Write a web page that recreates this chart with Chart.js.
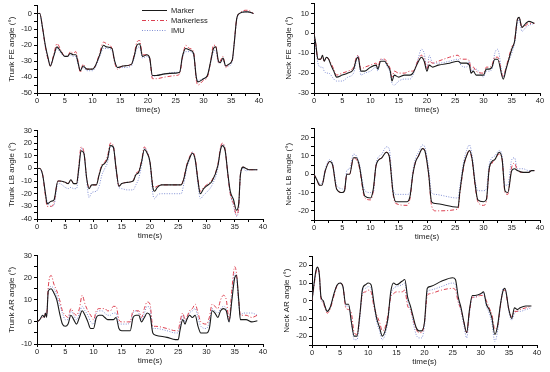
<!DOCTYPE html>
<html>
<head>
<meta charset="utf-8">
<script src="https://cdn.jsdelivr.net/npm/chart.js@4/dist/chart.umd.min.js"></script>
<style>
  html, body { margin: 0; padding: 0; background: #fff; width: 550px; height: 372px; overflow: hidden; }
  canvas { position: absolute; }
</style>
</head>
<body>
<canvas id="trunkFE"></canvas>
<canvas id="neckFE"></canvas>
<canvas id="trunkLB"></canvas>
<canvas id="neckLB"></canvas>
<canvas id="trunkAR"></canvas>
<canvas id="neckAR"></canvas>
<script>
// ---- data (angles in degrees) ----
var seriesNames = ["Marker", "Markerless", "IMU"];

var trunkFE_t = [0, 0.5, 1, 1.5, 2, 2.4, 3, 3.6, 4.3, 5, 5.5, 6, 6.5, 7, 7.4, 7.8, 8.3, 9, 10, 10.5, 11.2, 12, 12.5, 13.5, 14, 14.5, 15.5, 17, 17.5, 18, 18.5, 19, 19.8, 20.3, 20.8, 21.5, 23, 25, 25.7, 26.2, 26.8, 27.5, 28.2, 28.7, 29, 30, 30.7, 31.3, 31.8, 32.2, 32.7, 33, 33.5, 34, 34.5, 35.2, 35.5, 36, 36.5, 37.5, 38, 39];
var trunkFE_marker = [0, 0, -9, -20, -28, -33, -27, -21, -24, -27, -27, -25, -26, -26, -31, -36, -33, -35, -35, -33, -27, -20, -21, -22, -30, -34, -33, -32, -27, -20, -19, -27, -26, -28, -39, -39, -38, -37.5, -37, -27, -22, -23, -25, -40, -43, -41, -39, -30, -22, -21, -30, -31, -28, -33, -32, -29, -20, -3, 0, 1, 1, 0];
var trunkFE_markerless = [0, 0, -9, -21, -29, -33, -26, -19, -23, -27, -27, -24, -25, -24, -30, -37, -32, -35, -35, -33, -26, -18, -19, -22, -31, -35, -33, -32, -26, -18, -17, -26, -26, -28, -41, -41, -40, -39, -38, -28, -20, -22, -24, -42, -45, -42, -40, -30, -20, -20, -31, -30, -27, -34, -32, -29, -20, -3, 0, 2, 2, 0];
var trunkFE_imu = [0, 0, -10, -21, -29, -32, -27, -22, -25, -27, -27, -26, -27, -27, -32, -35, -34, -36, -36, -34, -28, -22, -22, -23, -30, -34, -34, -33, -28, -22, -21, -28, -27, -29, -40, -39, -38, -37, -37, -28, -24, -24, -26, -40, -42, -41, -39, -31, -24, -23, -31, -31, -29, -33, -33, -30, -20, -4, 0, 1, 1, 0];

var neckFE_t = [0, 0.3, 0.7, 1.2, 1.5, 1.8, 2.2, 2.6, 3, 3.5, 4, 5, 6, 7, 7.5, 7.8, 8.3, 9, 10, 11, 11.3, 11.8, 12.5, 13, 13.5, 13.8, 14.2, 15, 16, 17, 17.5, 18.5, 19, 19.5, 20, 20.4, 21, 22, 24, 25.5, 26, 27, 27.5, 27.8, 28.2, 28.7, 30, 30.5, 31, 31.5, 32, 32.5, 33.5, 34, 35, 35.5, 36, 36.3, 36.8, 37.5, 38, 39];
var neckFE_marker = [0, -5, -13, -13, -11, -14, -12, -13, -16, -19, -22, -21, -20, -18, -13, -12, -19, -19, -17, -16, -18, -14, -14, -16, -19, -24, -21, -22, -21, -21, -20, -14, -12, -14, -19, -16, -17, -16, -15, -14, -15, -15, -16, -20, -19, -21, -21, -18, -18, -17, -13, -13, -23, -18, -8, -4, 7, 8, 3, 5, 6, 5];
var neckFE_markerless = [0, -5, -13, -13, -11, -14, -12, -13, -15, -18, -21, -20, -19, -17, -12, -11, -18, -17, -16, -15, -17, -13, -13, -15, -18, -22, -19, -20, -20, -19, -19, -13, -11, -13, -18, -14, -15, -14, -12, -11, -13, -13, -14, -18, -17, -19, -20, -17, -17, -16, -12, -12, -22, -17, -7, -4, 7, 8, 3, 4, 5, 5];
var neckFE_imu = [0, -7, -15, -17, -17, -19, -20, -20, -21, -23, -24, -24, -22, -20, -14, -11, -21, -20, -19, -17, -19, -13, -14, -17, -20, -25, -26, -24, -23, -23, -21, -12, -8, -10, -18, -11, -15, -15, -14, -13, -16, -17, -14, -19, -18, -18, -22, -19, -19, -18, -10, -8, -22, -17, -10, -5, 5, 7, 1, 3, 4, 5];

var trunkLB_t = [0, 0.5, 1, 1.5, 1.8, 2.5, 3, 3.7, 4, 5, 5.5, 6, 6.5, 7, 7.4, 7.8, 8.3, 8.8, 9.2, 9.7, 10.5, 11, 11.5, 12, 12.5, 13, 13.5, 14, 14.5, 15, 16, 17, 17.5, 18, 18.5, 19, 19.5, 20, 20.5, 20.8, 21.3, 22, 24, 25.5, 26, 26.5, 27, 27.5, 28, 28.5, 28.9, 29.5, 30, 31, 32, 32.5, 32.8, 33.3, 33.8, 34.2, 34.8, 35.3, 35.7, 36, 36.5, 37, 37.5, 39];
var trunkLB_marker = [0, 0, -5, -20, -28, -26, -25, -10, -10, -11, -12, -9, -12, -12, 0, 14, 12, -8, -16, -13, -13, -5, 2, 4, 8, 18, 17, 0, -14, -12, -11, -10, -5, -3, 5, 15, 12, 5, -15, -18, -15, -13, -13, -13, -8, 2, 8, 12, 7, -10, -20, -16, -14, -10, 2, 15, 18, 14, -5, -18, -25, -33, -28, -5, 1, 0, -1, -1];
var trunkLB_markerless = [0, 0, -5, -22, -30, -30, -27, -10, -10, -11, -12, -9, -12, -12, 2, 17, 13, -8, -15, -13, -13, -4, 3, 5, 10, 20, 18, 0, -14, -12, -11, -10, -4, -2, 6, 17, 13, 5, -13, -15, -14, -13, -13, -13, -7, 3, 9, 13, 8, -9, -18, -15, -13, -9, 3, 17, 20, 15, -6, -20, -28, -37, -30, -5, 1, 0, -1, -1];
var trunkLB_imu = [0, 0, -6, -20, -26, -30, -29, -12, -12, -15, -16, -15, -16, -16, -2, 16, 12, -10, -23, -19, -18, -14, -5, 0, 5, 17, 17, -2, -15, -16, -17, -17, -13, -8, 2, 16, 13, 3, -20, -24, -21, -20, -20, -20, -12, 0, 7, 13, 6, -13, -24, -21, -19, -13, 0, 16, 19, 15, -6, -20, -30, -38, -32, -6, 0, -2, -1, -1];

var neckLB_t = [0, 0.5, 1, 1.4, 2, 2.8, 3.3, 4, 5, 5.4, 5.8, 6.3, 7, 7.5, 8, 9, 10, 10.5, 11, 12, 12.8, 13.3, 14, 14.5, 16.5, 17, 17.5, 18, 18.5, 19.2, 19.6, 20.3, 20.8, 21.5, 25.5, 25.8, 26.5, 27, 27.5, 28, 28.5, 29, 30, 30.5, 31, 31.5, 32, 32.8, 33.3, 33.8, 34.3, 35, 35.5, 36, 37, 38, 38.5, 39];
var neckLB_marker = [0, -3, -6, -6, 2, 7, 5, -8, -10, -9, 0, 0, 9, 9, 5, -12, -13, -8, 5, 9, 12, 10, -10, -15, -15, -12, 0, 7, 10, 14, 13, 0, -15, -16, -18, -10, 5, 10, 13, 8, -5, -14, -15, -14, 3, 7, 8, 12, 8, -9, -10, 2, 3, 2, 1, 1, 2, 2];
var neckLB_markerless = [0, -3, -6, -6, 2, 7, 5, -8, -10, -9, 0, 0, 9, 8, 4, -13, -14, -9, 5, 9, 12, 10, -11, -16, -17, -13, 0, 7, 10, 14, 13, -1, -17, -20, -19, -11, 4, 10, 13, 7, -6, -15, -17, -15, 2, 6, 8, 11, 8, -10, -11, 4, 6, 2, 1, 1, 2, 2];
var neckLB_imu = [0, -3, -5, -5, 3, 8, 6, -6, -8, -9, 2, 3, 11, 10, 6, -9, -10, -10, 6, 11, 15, 14, -8, -11, -11, -10, 2, 9, 12, 16, 15, 3, -10, -11, -13, -7, 7, 13, 16, 10, -3, -9, -9, -8, 5, 9, 10, 13, 10, -6, -6, 8, 9, 3, 3, 2, 2, 2];

var trunkAR_t = [0, 0.5, 1, 1.3, 1.5, 1.7, 2, 2.5, 3, 3.5, 4, 4.5, 5, 5.5, 6, 6.5, 7, 7.5, 8, 8.5, 9, 9.5, 10, 10.5, 11, 11.5, 12, 12.5, 13, 13.5, 14, 14.5, 15, 16, 16.5, 17, 17.5, 18, 18.5, 19, 19.5, 20, 20.5, 21, 23, 24.5, 25, 25.3, 25.8, 26.2, 26.5, 27, 27.5, 28, 28.5, 29, 30, 30.5, 31, 31.5, 32, 32.5, 33, 33.5, 34, 34.5, 35, 35.3, 35.7, 36, 36.5, 37, 38, 39];
var trunkAR_marker = [0, 1, 3, 2, 4, 2, 14, 15, 13, 10, 4, -1, -2, -1, 3, 1, -1, 2, 5, 3, 0, -3, -3, 2, 3, 3, 2, 1, 1, 1, 2, -3, -4, -4, -4, 2, 3, 3, 0, 2, 4, 3, -5, -6, -7, -8, -8, -4, 1, -1, 1, 3, 2, 3, -2, -5, -5, -3, 5, 4, 2, 5, 6, 5, 0, 10, 20, 21, 10, 1, 1, 1, 0, 0.5];
var trunkAR_markerless = [0, 1, 2, 2, 4, 3, 16, 21, 17, 14, 10, 5, 3, 2, 6, 4, 3, 6, 12, 8, 5, 3, 1, 5, 6, 6, 6, 5, 5, 7, 7, 1, 0, 0, 0, 5, 5, 5, 2, 6, 9, 8, -2, -2, -3, -4, -4, 0, 4, 1, 2, 5, 6, 8, 4, 0, -1, 2, 8, 7, 6, 10, 12, 10, 1, 15, 25, 22, 10, 3, 3, 3, 2, 3];
var trunkAR_imu = [0, 1, 3, 2, 4, 3, 14, 16, 15, 12, 8, 4, 1, 1, 5, 3, 1, 4, 7, 5, 3, 0, -1, 4, 5, 5, 4, 3, 3, 4, 4, -1, -1, -1, 0, 4, 5, 4, 1, 4, 7, 6, -3, -3, -4, -5, -5, -2, 3, 0, 1, 4, 5, 6, 2, -2, -3, 0, 6, 5, 4, 6, 7, 6, 0, 12, 22, 20, 8, 3, 4, 4, 4, 3];

var neckAR_t = [0, 0.3, 0.7, 1, 1.3, 1.6, 2, 2.3, 2.7, 3.2, 4, 4.5, 5, 5.5, 6, 6.5, 7, 7.5, 8, 8.5, 9, 9.5, 10, 10.5, 11, 11.5, 12, 12.5, 13, 13.5, 14, 14.5, 15, 16, 16.5, 17, 17.5, 18.5, 19, 19.5, 20, 20.5, 21, 23, 25, 25.5, 26, 26.5, 27, 27.5, 28, 28.5, 29, 30, 30.5, 31, 31.5, 32, 32.5, 33, 33.5, 34, 34.3, 35, 35.5, 36, 36.5, 37, 38, 39];
var neckAR_marker = [0, 8, 17, 19, 15, 2, 0, -3, -6, -4, 5, 9, 10, 8, -2, -2, -12, -20, -20, -8, 7, 9, 10, 9, -1, -10, -15, -20, -17, -10, 5, 10, 9, 11, 12, 2, -3, -15, -17, -17, -12, 7, 8, 11, 13, 12, 2, -4, -12, -18, -5, 3, 3, 4, 5, -2, -5, -10, -19, -14, -2, 6, 7, -5, -10, -4, -5, -4, -3, -3];
var neckAR_markerless = [0, 7, 16, 19, 15, 1, -1, -4, -7, -5, 4, 9, 10, 8, -4, -5, -7, -18, -19, -8, 4, 5, 6, 5, -3, -8, -12, -17, -15, -8, 2, 4, 5, 5, 6, -3, -5, -16, -18, -18, -12, 3, 4, 6, 7, 6, -1, -5, -12, -18, -6, 2, 2, 3, 3, 0, -4, -8, -16, -14, -3, 6, 6, -5, -9, -6, -6, -5, -4, -3];
var neckAR_imu = [0, 8, 16, 18, 14, 1, -1, -4, -6, -4, 5, 9, 10, 8, -3, -3, -12, -22, -22, -10, 6, 7, 8, 7, -2, -12, -17, -22, -19, -11, 3, 7, 8, 9, 10, 0, -5, -19, -21, -21, -14, 5, 6, 8, 10, 9, 0, -6, -14, -21, -7, 2, 2, 4, 4, -3, -7, -13, -23, -17, -3, 7, 7, -6, -11, -7, -6, -6, -5, -4];

// ---- styling ----
var FONT = '"Liberation Sans", Arial, sans-serif';
var Y_W = 37, X_H = 24, PAD_T = 6, PAD_R = 8;
var styles = [
  { color: '#1a1a1a', dash: [] },
  { color: '#dc4050', dash: [4, 2, 1, 2] },
  { color: '#8290d4', dash: [1, 1.5] }
];

var legendPlugin = {
  id: 'insideLegend',
  afterDraw: function(chart) {
    if (!chart.options.plugins.insideLegend.show) return;
    var ctx = chart.ctx, a = chart.chartArea;
    ctx.save();
    ctx.font = '7.5px ' + FONT;
    ctx.textBaseline = 'middle';
    for (var i = 0; i < seriesNames.length; i++) {
      var y = Math.round(a.top + 4 + i * 10) + 0.5;
      ctx.beginPath();
      ctx.setLineDash(styles[i].dash);
      ctx.strokeStyle = styles[i].color;
      ctx.lineWidth = 1;
      ctx.moveTo(a.left + 105, y);
      ctx.lineTo(a.left + 130, y);
      ctx.stroke();
      ctx.setLineDash([]);
      ctx.fillStyle = '#222';
      ctx.fillText(seriesNames[i], a.left + 134, y);
    }
    ctx.restore();
  }
};

function halfSteps(min, max, step) {
  var out = [];
  for (var v = min; v <= max + 1e-9; v += step / 2) out.push({ value: v });
  return out;
}

function makeChart(id, rect, t, lists, yMin, yMax, yTitle, showLegend) {
  var cv = document.getElementById(id);
  var w = rect[2] - rect[0] + Y_W + PAD_R;
  var h = rect[3] - rect[1] + PAD_T + X_H;
  cv.width = w; cv.height = h;
  cv.style.width = w + 'px'; cv.style.height = h + 'px';
  cv.style.left = (rect[0] - Y_W) + 'px';
  cv.style.top = (rect[1] - PAD_T) + 'px';

  var datasets = lists.map(function(vals, k) {
    return {
      label: seriesNames[k],
      data: t.map(function(x, i) { return { x: x, y: vals[i] }; }),
      borderColor: styles[k].color,
      borderDash: styles[k].dash,
      borderWidth: k === 0 ? 1.1 : 1,
      pointRadius: 0,
      fill: false,
      cubicInterpolationMode: 'monotone'
    };
  });

  return new Chart(cv.getContext('2d'), {
    type: 'line',
    data: { datasets: datasets },
    plugins: [legendPlugin],
    options: {
      responsive: false,
      animation: false,
      layout: { padding: { top: PAD_T, right: PAD_R, left: 0, bottom: 0 } },
      plugins: { legend: { display: false }, tooltip: { enabled: false }, insideLegend: { show: showLegend } },
      scales: {
        x: {
          type: 'linear', min: 0, max: 40,
          afterBuildTicks: function(s) { s.ticks = halfSteps(0, 40, 5); },
          afterFit: function(s) { s.height = X_H; },
          ticks: {
            autoSkip: false, maxRotation: 0, padding: 0, color: '#222',
            font: { family: FONT, size: 7.5 },
            callback: function(v) { return v % 5 === 0 ? v : ''; }
          },
          grid: { drawOnChartArea: false, tickLength: 3, tickColor: '#000' },
          border: { color: '#000', width: 1 },
          title: { display: true, text: 'time(s)', color: '#222', font: { family: FONT, size: 8 }, padding: { top: 0, bottom: 2 } }
        },
        y: {
          type: 'linear', min: yMin, max: yMax,
          afterBuildTicks: function(s) { s.ticks = halfSteps(yMin, yMax, 10); },
          afterFit: function(s) { s.width = Y_W; },
          ticks: {
            autoSkip: false, padding: 2, color: '#222',
            font: { family: FONT, size: 7.5 },
            callback: function(v) { return v % 10 === 0 ? v : ''; }
          },
          grid: { drawOnChartArea: false, tickLength: 3, tickColor: '#000' },
          border: { color: '#000', width: 1 },
          title: { display: true, text: yTitle, color: '#222', font: { family: FONT, size: 8 }, padding: { top: 7, bottom: 0 } }
        }
      }
    }
  });
}

makeChart('trunkFE', [37, 5, 259, 93], trunkFE_t, [trunkFE_marker, trunkFE_markerless, trunkFE_imu], -50, 5, 'Trunk FE angle (°)', true);
makeChart('neckFE', [314, 3, 540, 93], neckFE_t, [neckFE_marker, neckFE_markerless, neckFE_imu], -30, 15, 'Neck FE angle (°)', false);
makeChart('trunkLB', [37, 130, 263, 219], trunkLB_t, [trunkLB_marker, trunkLB_markerless, trunkLB_imu], -40, 30, 'Trunk LB angle (°)', false);
makeChart('neckLB', [314, 128, 540, 220], neckLB_t, [neckLB_marker, neckLB_markerless, neckLB_imu], -25, 25, 'Neck LB angle (°)', false);
makeChart('trunkAR', [37, 255, 263, 344], trunkAR_t, [trunkAR_marker, trunkAR_markerless, trunkAR_imu], -10, 30, 'Trunk AR angle (°)', false);
makeChart('neckAR', [312, 256, 537, 345], neckAR_t, [neckAR_marker, neckAR_markerless, neckAR_imu], -25, 25, 'Neck AR angle (°)', false);
</script>
</body>
</html>
